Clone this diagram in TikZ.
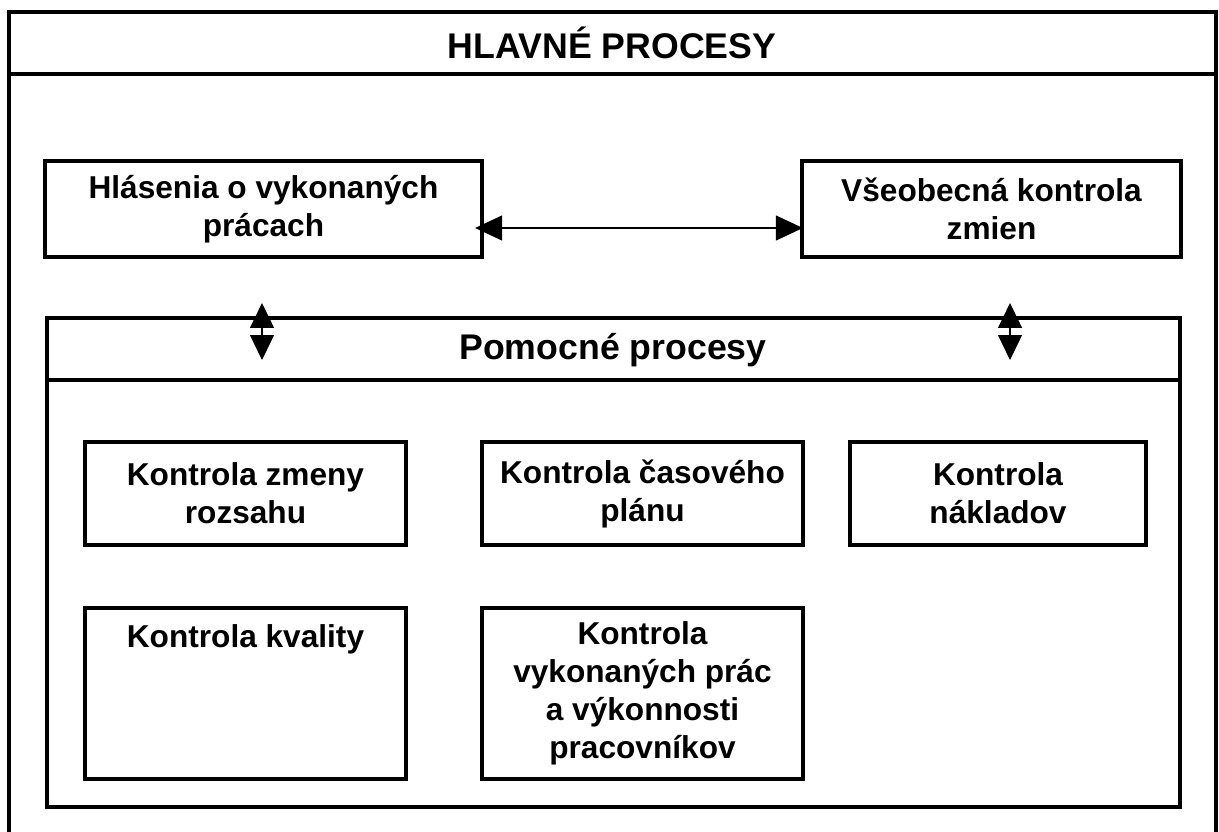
\documentclass[tikz,border=0pt]{standalone}
\usepackage{fontspec}
\setmainfont{Liberation Sans}
\usetikzlibrary{arrows.meta,positioning}

\tikzset{
  box/.style={draw, line width=2.5pt, align=center, inner sep=0pt,
    font=\bfseries\fontsize{18}{21.6}\selectfont},
  frame/.style={line width=2pt},
  headline/.style={font=\bfseries\fontsize{20.3}{24}\selectfont},
  link/.style={line width=0.8pt, {Triangle[length=0.54cm,width=0.5cm]}-{Triangle[length=0.54cm,width=0.5cm]}},
  vlink/.style={line width=0.8pt, {Triangle[length=0.5cm,width=0.48cm]}-{Triangle[length=0.5cm,width=0.48cm]}}
}

\begin{document}
\begin{tikzpicture}[x=0.02cm, y=-0.02cm]
        \useasboundingbox (0,0) rectangle (1219,831);

        % hlavne procesy
        \draw[frame] (9,12) rectangle (1216,850);
        \draw[frame] (9,74) -- (1216,74);
        \node[headline] (hlavne) at (612,43) {HLAVNÉ PROCESY};

        \node[box, minimum width=8.74cm, minimum height=1.92cm] (hlasenia) at (263.5,209) {Hlásenia o vykonaných\\prácach};
        \node[box, minimum width=7.58cm, minimum height=1.92cm] (vseobecna) at (991.5,209) {Všeobecná kontrola\\zmien};

        \coordinate (hy) at (0,228);
        \draw[link, shorten <=-0.18cm, shorten >=-0.06cm] (hlasenia.east |- hy) -- (vseobecna.west |- hy);

        % pomocne procesy
        \draw[frame] (47,318) rectangle (1180,807);
        \draw[frame] (47,380) -- (1180,380);
        \node[headline] (pomocne) at (613,350) {Pomocné procesy};

        \coordinate (la) at (262,303);
        \coordinate (lb) at (262,360);
        \coordinate (ra) at (1010,303);
        \coordinate (rb) at (1010,360);
        \draw[vlink] (la) -- (lb);
        \draw[vlink] (ra) -- (rb);

        \node[box, minimum width=6.42cm, minimum height=2.06cm] (kzmeny) at (245.5,493.5) {Kontrola zmeny\\rozsahu};
        \node[box, minimum width=6.42cm, minimum height=2.06cm] (kplan) at (642.5,493.5) {Kontrola časového\\plánu};
        \node[box, minimum width=5.92cm, minimum height=2.06cm] (knaklady) at (998,493.5) {Kontrola\\nákladov};

        \node[box, minimum width=6.42cm, minimum height=3.42cm] (kkvalita) at (245.5,693.5) {};
        \node[box, draw=none, below=0.34cm of kkvalita.north] (kkvalitatext) {Kontrola kvality};
        \node[box, minimum width=6.42cm, minimum height=3.42cm] (kprace) at (642.5,693.5) {Kontrola\\vykonaných prác\\a výkonnosti\\pracovníkov};
      \end{tikzpicture}
\end{document}
